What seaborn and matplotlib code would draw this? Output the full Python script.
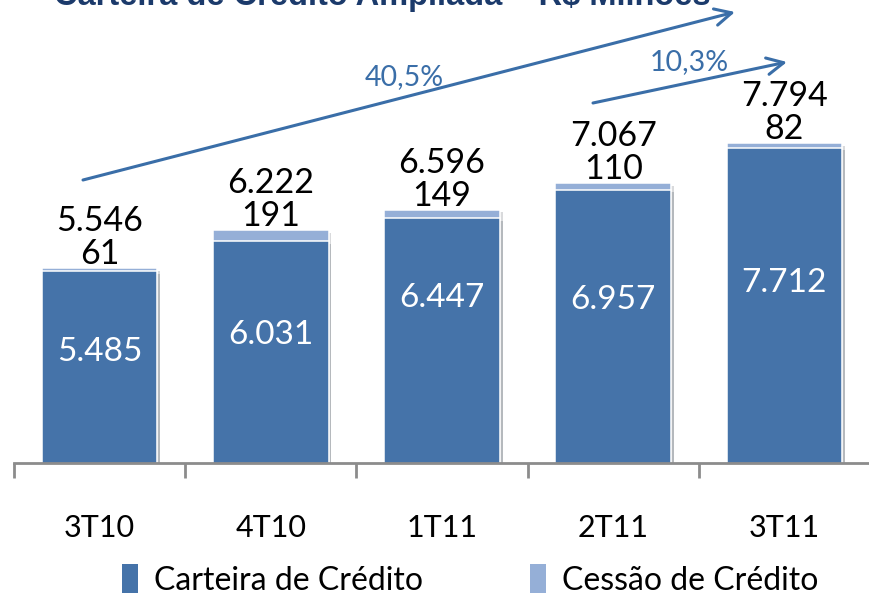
import numpy as np
import pandas as pd
import matplotlib
matplotlib.use("Agg")
import matplotlib.pyplot as plt
import matplotlib.patheffects as pe
from matplotlib.patches import Patch
import seaborn as sns

# data
quarters = ["3T10", "4T10", "1T11", "2T11", "3T11"]
carteira = [5485, 6031, 6447, 6957, 7712]
cessao = [61, 191, 149, 110, 82]
totals = [5546, 6222, 6596, 7067, 7794]
growth_labels = ["40,5%", "10,3%"]

# layout (label heights inside the bars, in data units)
inner_label_y = [4040, 4340, 5000, 4970, 5280]

DARK = "#4573a9"
LIGHT = "#95afd7"
ARROW = "#3a6ea8"
FONT = ["Lato", "DejaVu Sans"]

sns.set_theme(style="white")
plt.rcParams["font.family"] = FONT
plt.rcParams["text.color"] = "black"

df = pd.DataFrame({"quarter": quarters, "carteira": carteira, "total": totals})

fig = plt.figure(figsize=(8.7, 5.98), dpi=100)
ax = fig.add_axes([14 / 870, 135 / 598, 856 / 870, 463 / 598])

shadow = [pe.SimplePatchShadow(offset=(2, -2), alpha=0.18), pe.Normal()]

# stacked bars: total (light) behind, carteira (dark) in front
sns.barplot(data=df, x="quarter", y="total", color=LIGHT, saturation=1,
            width=0.675, edgecolor="white", linewidth=1.1, ax=ax)
sns.barplot(data=df, x="quarter", y="carteira", color=DARK, saturation=1,
            width=0.675, edgecolor="white", linewidth=1.1, ax=ax)
for p in ax.patches:
    p.set_path_effects(shadow)

ax.set_ylim(2040, 10367)
ax.set_xlim(-0.5, 4.40)
ax.set_xlabel("")
ax.set_ylabel("")
ax.set_yticks([])
for s in ["left", "right", "top"]:
    ax.spines[s].set_visible(False)
ax.spines["bottom"].set_color("#8c8c8c")
ax.spines["bottom"].set_linewidth(2)

ax.set_xticks(range(len(quarters)))
ax.set_xticklabels(quarters, fontsize=22, color="black")
ax.tick_params(axis="x", which="major", length=0, pad=37)
ax.set_xticks(np.arange(-0.5, len(quarters), 1), minor=True)
ax.tick_params(axis="x", which="minor", bottom=True, length=11, width=2,
               color="#8c8c8c")

for i in range(len(quarters)):
    ax.annotate(f"{totals[i]:,}".replace(",", "."), (i, totals[i]),
                xytext=(0, 37), textcoords="offset pixels",
                ha="center", va="baseline", fontsize=24.5, color="black")
    ax.annotate(str(cessao[i]), (i, totals[i]),
                xytext=(0, 4), textcoords="offset pixels",
                ha="center", va="baseline", fontsize=24.5, color="black")
    ax.text(i, inner_label_y[i], f"{carteira[i]:,}".replace(",", "."),
            ha="center", va="center", fontsize=24, color="white")

# growth arrows
arrows = [((83, 180), (735, 12)), ((593, 103), (787, 62))]
for (x0, y0), (x1, y1) in arrows:
    ax.annotate("", xy=(x1 / 870, 1 - y1 / 598), xycoords="figure fraction",
                xytext=(x0 / 870, 1 - y0 / 598), textcoords="figure fraction",
                arrowprops=dict(arrowstyle="->,head_length=1.0,head_width=0.5",
                                color=ARROW, lw=2.2, shrinkA=0, shrinkB=0))
fig.text(404 / 870, 1 - 77 / 598, growth_labels[0], ha="center", va="center",
         fontsize=20.5, color=ARROW)
fig.text(689 / 870, 1 - 62 / 598, growth_labels[1], ha="center", va="center",
         fontsize=20.5, color=ARROW)

# title (cut at the top edge, as in the original)
fig.text(382 / 870, 1 - 5 / 598, "Carteira de Crédito Ampliada – R$ Milhões",
         ha="center", va="baseline", fontsize=23.5, fontweight="bold",
         color="#1b3a6b", family=["Liberation Sans", "DejaVu Sans"])

handles = [Patch(facecolor=DARK, edgecolor="none"),
           Patch(facecolor=LIGHT, edgecolor="none")]
fig.legend(handles, ["Carteira de Crédito", "Cessão de Crédito"],
           loc="center", bbox_to_anchor=(470 / 870, 1 - 580 / 598), ncol=2,
           frameon=False, fontsize=23, handlelength=0.5, handleheight=1.0,
           handletextpad=0.5, columnspacing=3.35, labelcolor="black")

fig.savefig("out.png", dpi=100)
